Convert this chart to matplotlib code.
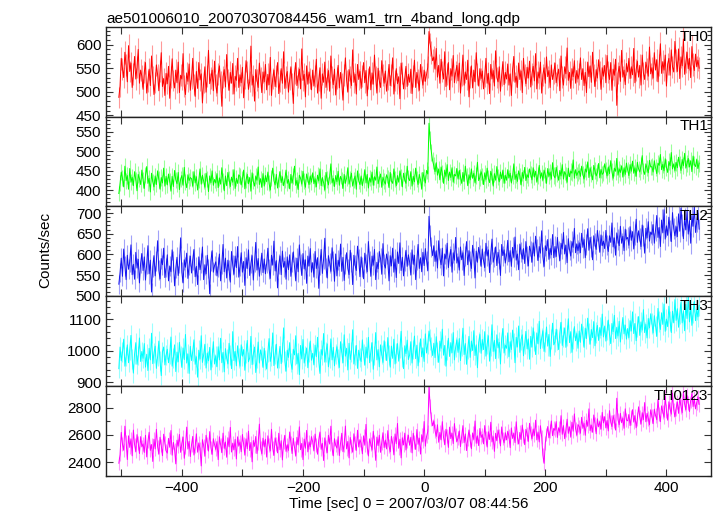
import numpy as np
import matplotlib
matplotlib.use("Agg")
import matplotlib.pyplot as plt
from matplotlib.ticker import MultipleLocator

plt.rcParams['font.family'] = ['Liberation Sans', 'DejaVu Sans']

# time bins (s) start at -504, 2 s wide, 20 bins per row below
t_start = -504
bin_width = 2

th0 = [
    488, 512, 571, 549, 530, 584, 556, 521, 598, 543, 561, 509, 538, 575, 527, 552, 590, 518, 546, 533,
    505, 541, 562, 497, 523, 548, 513, 576, 531, 494, 519, 557, 536, 502, 544, 583, 511, 528, 492, 539,
    517, 554, 486, 531, 570, 524, 508, 546, 519, 563, 498, 535, 527, 581, 512, 494, 540, 522, 559, 503,
    529, 571, 516, 490, 543, 507, 562, 525, 538, 476, 521, 553, 499, 534, 588, 517, 529, 546, 502, 565,
    514, 497, 538, 555, 521, 469, 532, 547, 510, 579, 526, 503, 541, 518, 560, 495, 533, 524, 571, 509,
    536, 519, 552, 487, 528, 566, 541, 505, 522, 597, 514, 533, 480, 547, 525, 509, 561, 530, 498, 542,
    521, 558, 504, 537, 515, 573, 492, 528, 546, 511, 534, 562, 496, 523, 549, 518, 585, 507, 531, 543,
    499, 527, 553, 518, 475, 539, 562, 513, 530, 548, 506, 591, 524, 537, 489, 555, 516, 542, 528, 504,
    546, 512, 533, 569, 497, 524, 551, 486, 538, 520, 563, 509, 527, 545, 501, 576, 532, 515, 548, 493,
    529, 556, 508, 541, 518, 482, 535, 572, 524, 499, 547, 531, 513, 589, 520, 537, 495, 558, 526, 543,
    507, 534, 562, 519, 545, 491, 528, 553, 504, 540, 516, 578, 531, 497, 550, 523, 509, 566, 535, 518,
    544, 501, 527, 558, 513, 536, 572, 495, 524, 549, 517, 532, 485, 561, 539, 506, 528, 554, 511, 537,
    520, 548, 496, 533, 567, 509, 541, 525, 503, 558, 531, 514, 546, 522, 537, 552, 628, 601, 583, 566,
    574, 548, 592, 531, 556, 518, 569, 543, 527, 585, 511, 538, 562, 504, 549, 533, 577, 519, 541, 556,
    523, 561, 497, 535, 578, 514, 542, 526, 567, 489, 531, 555, 508, 546, 521, 583, 537, 512, 549, 528,
    544, 506, 533, 571, 518, 539, 496, 558, 527, 545, 512, 587, 530, 521, 553, 501, 536, 564, 515, 541,
    527, 559, 514, 538, 492, 547, 575, 520, 533, 509, 561, 526, 544, 498, 571, 535, 517, 552, 529, 565,
    510, 538, 554, 523, 581, 506, 542, 529, 563, 497, 536, 551, 518, 574, 532, 545, 509, 557, 526, 540,
    561, 519, 535, 548, 502, 576, 531, 514, 553, 538, 593, 524, 541, 507, 549, 532, 566, 518, 545, 527,
    538, 572, 526, 549, 513, 541, 498, 563, 532, 555, 520, 584, 536, 511, 547, 529, 568, 542, 505, 551,
    533, 556, 519, 577, 541, 526, 562, 503, 548, 535, 569, 471, 539, 554, 522, 588, 531, 546, 515, 560,
    542, 571, 528, 553, 536, 592, 519, 547, 565, 531, 556, 514, 578, 540, 526, 563, 549, 533, 595, 538,
    551, 529, 583, 546, 568, 521, 557, 602, 539, 564, 546, 578, 512, 559, 571, 535, 589, 553, 542, 607,
    566, 543, 591, 528, 574, 555, 612, 537, 563, 584, 549, 571, 530, 596, 558, 545, 580, 553, 567, 550,
]

th1 = [
    392, 418, 447, 431, 409, 462, 425, 438, 403, 456, 421, 434, 412, 448, 427, 399, 441, 430, 415, 452,
    426, 405, 439, 461, 418, 431, 396, 444, 422, 409, 437, 415, 450, 428, 403, 433, 419, 457, 411, 436,
    414, 442, 423, 398, 436, 410, 451, 427, 417, 446, 402, 429, 438, 413, 459, 421, 407, 440, 425, 433,
    430, 411, 448, 419, 435, 401, 426, 455, 416, 439, 424, 408, 444, 429, 397, 437, 420, 450, 413, 428,
    419, 443, 407, 432, 416, 458, 424, 399, 437, 412, 446, 428, 410, 434, 421, 453, 405, 431, 418, 440,
    436, 414, 429, 452, 404, 427, 441, 417, 433, 398, 445, 423, 411, 437, 426, 460, 415, 430, 408, 443,
    411, 438, 422, 447, 418, 401, 432, 457, 425, 414, 441, 406, 429, 448, 420, 435, 412, 427, 452, 418,
    428, 404, 441, 419, 436, 462, 413, 426, 402, 439, 431, 416, 449, 423, 408, 442, 427, 415, 437, 421,
    445, 417, 430, 409, 439, 424, 455, 412, 433, 420, 401, 446, 428, 414, 436, 468, 419, 431, 410, 438,
    422, 449, 413, 436, 427, 405, 441, 418, 432, 458, 416, 429, 444, 411, 426, 437, 403, 450, 424, 415,
    437, 412, 428, 453, 419, 441, 406, 432, 421, 447, 413, 435, 426, 460, 417, 429, 442, 408, 434, 423,
    416, 440, 431, 407, 446, 424, 418, 455, 429, 412, 438, 421, 450, 433, 409, 444, 427, 418, 462, 431,
    425, 448, 411, 436, 422, 457, 430, 415, 441, 427, 403, 446, 433, 419, 451, 442, 572, 528, 497, 476,
    463, 448, 471, 439, 455, 427, 460, 443, 418, 452, 436, 466, 425, 447, 433, 458, 421, 441, 437, 456,
    429, 451, 434, 418, 446, 423, 462, 436, 412, 440, 427, 455, 431, 444, 419, 438, 472, 425, 433, 448,
    437, 415, 445, 428, 457, 431, 420, 449, 436, 411, 443, 426, 461, 434, 422, 447, 430, 452, 418, 439,
    426, 453, 432, 444, 419, 436, 468, 428, 441, 423, 450, 437, 414, 446, 431, 459, 425, 440, 433, 455,
    441, 427, 458, 434, 449, 421, 438, 464, 431, 445, 426, 452, 440, 418, 456, 436, 447, 429, 471, 438,
    432, 459, 443, 426, 451, 437, 466, 429, 448, 440, 421, 457, 435, 449, 444, 478, 431, 453, 438, 446,
    450, 436, 462, 441, 429, 455, 447, 473, 433, 458, 442, 427, 464, 451, 437, 446, 469, 432, 454, 441,
    445, 468, 452, 437, 460, 443, 476, 448, 431, 457, 449, 482, 439, 455, 446, 463, 434, 458, 441, 470,
    452, 438, 466, 449, 475, 444, 458, 436, 472, 455, 447, 463, 489, 450, 441, 468, 457, 445, 477, 460,
    461, 447, 476, 458, 443, 470, 464, 492, 453, 467, 450, 481, 459, 446, 474, 463, 497, 455, 468, 451,
    472, 458, 485, 466, 451, 479, 463, 495, 457, 470, 482, 460, 476, 448, 488, 467, 461, 479, 456, 470,
]

th2 = [
    528, 556, 591, 547, 613, 572, 539, 598, 564, 582, 623, 551, 576, 540, 605, 567, 588, 531, 579, 602,
    561, 594, 538, 577, 621, 553, 586, 509, 570, 597, 548, 584, 633, 562, 541, 590, 575, 615, 544, 568,
    599, 536, 572, 558, 611, 583, 524, 566, 593, 549, 578, 640, 557, 531, 587, 569, 603, 542, 574, 596,
    555, 587, 612, 546, 571, 527, 594, 563, 580, 618, 539, 575, 553, 598, 566, 505, 584, 609, 557, 573,
    582, 548, 569, 601, 536, 577, 624, 558, 591, 543, 586, 562, 533, 607, 574, 552, 596, 568, 619, 545,
    571, 604, 557, 583, 525, 592, 566, 611, 549, 578, 597, 538, 581, 629, 562, 590, 547, 575, 603, 556,
    589, 553, 578, 615, 564, 542, 598, 574, 632, 560, 585, 519, 576, 596, 551, 608, 569, 583, 540, 594,
    563, 599, 547, 581, 606, 570, 536, 591, 558, 623, 577, 549, 602, 565, 587, 530, 596, 572, 614, 557,
    580, 545, 607, 566, 592, 518, 575, 612, 554, 588, 639, 568, 543, 597, 579, 559, 616, 583, 535, 601,
    548, 586, 571, 625, 559, 593, 537, 577, 604, 566, 551, 610, 582, 527, 598, 574, 561, 620, 589, 546,
    594, 569, 541, 603, 578, 558, 631, 585, 547, 596, 574, 612, 539, 581, 565, 607, 590, 552, 626, 576,
    567, 601, 584, 536, 597, 572, 615, 557, 589, 544, 606, 578, 628, 561, 593, 548, 584, 610, 571, 599,
    582, 550, 611, 576, 598, 539, 587, 624, 566, 592, 558, 605, 573, 614, 585, 561, 692, 646, 618, 597,
    621, 583, 609, 567, 633, 591, 575, 615, 548, 601, 589, 627, 568, 596, 612, 557, 604, 586, 641, 579,
    594, 562, 618, 587, 604, 549, 597, 631, 575, 609, 584, 566, 622, 592, 543, 608, 581, 617, 599, 571,
    613, 585, 568, 627, 596, 611, 556, 602, 637, 581, 594, 618, 573, 605, 588, 549, 624, 597, 611, 579,
    598, 634, 582, 609, 571, 617, 593, 642, 586, 601, 563, 625, 606, 589, 614, 578, 631, 596, 572, 620,
    607, 581, 628, 596, 644, 612, 585, 619, 603, 657, 594, 571, 621, 609, 636, 588, 615, 599, 648, 592,
    619, 595, 641, 608, 585, 627, 613, 653, 601, 622, 580, 638, 611, 596, 631, 617, 663, 604, 625, 609,
    628, 604, 651, 617, 636, 592, 624, 662, 610, 641, 619, 587, 645, 626, 612, 658, 633, 605, 647, 621,
    632, 614, 658, 623, 607, 645, 629, 676, 618, 640, 598, 652, 635, 621, 668, 627, 644, 609, 661, 637,
    641, 622, 667, 634, 655, 613, 648, 685, 629, 657, 638, 619, 671, 646, 603, 663, 640, 679, 632, 654,
    648, 672, 627, 659, 694, 641, 665, 619, 683, 652, 708, 637, 669, 646, 690, 658, 631, 701, 662, 645,
    667, 643, 698, 656, 712, 671, 638, 687, 659, 705, 649, 682, 627, 694, 668, 715, 653, 679, 700, 661,
]

th3 = [
    943, 1012, 968, 995, 1037, 951, 982, 1019, 962, 1003, 1049, 974, 929, 991, 1026, 957, 985, 1041, 966, 998,
    976, 1023, 948, 989, 937, 1008, 971, 1056, 959, 993, 1015, 944, 982, 1031, 968, 921, 997, 1012, 955, 986,
    1005, 962, 988, 1044, 951, 977, 1019, 934, 996, 965, 1027, 983, 947, 1009, 972, 1052, 961, 990, 928, 1014,
    969, 998, 1035, 957, 981, 916, 1002, 974, 1048, 963, 987, 1021, 945, 993, 968, 1011, 939, 979, 1029, 958,
    984, 949, 1013, 971, 1040, 962, 995, 933, 1007, 976, 958, 1024, 987, 943, 1061, 969, 998, 952, 1016, 977,
    951, 1019, 983, 1004, 938, 992, 1033, 965, 977, 1046, 956, 989, 1012, 931, 975, 1028, 961, 1003, 984, 947,
    1008, 971, 942, 997, 1039, 966, 984, 1057, 953, 990, 1021, 945, 978, 1014, 959, 996, 1073, 968, 935, 1002,
    979, 1026, 963, 941, 1005, 987, 1048, 958, 992, 924, 1017, 974, 1036, 961, 983, 1009, 946, 995, 1031, 970,
    992, 955, 1018, 981, 1043, 967, 928, 1004, 986, 1055, 964, 997, 1022, 949, 978, 1038, 971, 1011, 952, 989,
    1013, 976, 947, 1029, 994, 962, 1051, 983, 1008, 939, 1024, 972, 996, 1067, 958, 987, 1017, 944, 1002, 979,
    966, 1035, 991, 954, 1012, 977, 1043, 962, 998, 1026, 941, 985, 1058, 971, 1004, 949, 1019, 988, 963, 1032,
    1001, 969, 1042, 986, 948, 1015, 976, 1037, 958, 994, 1023, 967, 1008, 1062, 980, 943, 1016, 991, 1034, 972,
    987, 1029, 961, 1004, 1047, 975, 1018, 952, 996, 1038, 981, 1009, 966, 1054, 993, 1021, 1063, 1036, 1012, 985,
    1024, 978, 1045, 997, 963, 1031, 1008, 1069, 986, 1017, 951, 1003, 1040, 982, 1026, 994, 1058, 971, 1012, 1035,
    995, 1039, 969, 1014, 1072, 988, 1023, 957, 1006, 1046, 979, 1031, 1001, 1064, 985, 1019, 946, 1027, 1052, 992,
    1036, 1004, 1061, 983, 1022, 1048, 967, 1014, 1083, 998, 1033, 975, 1051, 1009, 1027, 958, 1040, 1071, 993, 1018,
    1008, 1057, 981, 1029, 1004, 1066, 1025, 962, 1043, 1012, 1079, 995, 1036, 1051, 984, 1021, 1062, 1006, 1038, 973,
    1046, 1012, 1073, 1031, 988, 1057, 1022, 1094, 1007, 1041, 1064, 998, 1029, 1076, 1015, 1052, 982, 1037, 1088, 1019,
    1028, 1069, 1036, 1004, 1058, 1091, 1017, 1045, 1073, 1011, 1049, 1102, 1026, 1061, 995, 1039, 1077, 1032, 1055, 1008,
    1063, 1027, 1085, 1048, 1011, 1072, 1039, 1104, 1055, 1021, 1068, 1042, 1093, 1016, 1059, 1081, 1033, 1074, 1049, 1117,
    1044, 1079, 1031, 1066, 1098, 1052, 1023, 1087, 1061, 1113, 1039, 1075, 1047, 1094, 1028, 1069, 1106, 1054, 1082, 1037,
    1071, 1042, 1096, 1063, 1124, 1055, 1087, 1032, 1078, 1109, 1049, 1092, 1066, 1131, 1058, 1084, 1041, 1103, 1073, 1118,
    1088, 1057, 1112, 1079, 1046, 1135, 1093, 1068, 1121, 1084, 1149, 1062, 1101, 1077, 1142, 1095, 1058, 1126, 1089, 1163,
    1097, 1134, 1075, 1118, 1156, 1089, 1127, 1064, 1148, 1103, 1171, 1092, 1139, 1081, 1122, 1158, 1096, 1131, 1108, 1145,
]

th0123 = [
    2392, 2455, 2618, 2531, 2487, 2664, 2552, 2419, 2593, 2508, 2571, 2446, 2635, 2527, 2478, 2602, 2541, 2463, 2587, 2512,
    2534, 2471, 2597, 2438, 2552, 2619, 2486, 2529, 2405, 2568, 2497, 2641, 2513, 2459, 2583, 2521, 2447, 2605, 2538, 2482,
    2466, 2574, 2509, 2632, 2451, 2545, 2493, 2387, 2561, 2518, 2603, 2472, 2539, 2584, 2428, 2507, 2657, 2496, 2553, 2441,
    2527, 2589, 2452, 2516, 2608, 2473, 2541, 2499, 2372, 2565, 2521, 2443, 2597, 2536, 2481, 2624, 2508, 2457, 2572, 2529,
    2493, 2551, 2418, 2586, 2527, 2469, 2613, 2501, 2548, 2436, 2579, 2512, 2655, 2474, 2539, 2492, 2567, 2423, 2586, 2517,
    2548, 2476, 2603, 2532, 2451, 2571, 2498, 2627, 2485, 2544, 2402, 2559, 2516, 2588, 2463, 2537, 2679, 2504, 2462, 2576,
    2511, 2568, 2437, 2593, 2525, 2482, 2641, 2503, 2449, 2578, 2534, 2468, 2612, 2491, 2557, 2416, 2546, 2597, 2479, 2528,
    2486, 2621, 2539, 2463, 2575, 2508, 2444, 2582, 2526, 2659, 2491, 2537, 2418, 2569, 2502, 2633, 2475, 2548, 2512, 2587,
    2549, 2482, 2606, 2527, 2458, 2563, 2621, 2494, 2537, 2412, 2578, 2515, 2469, 2597, 2533, 2664, 2501, 2446, 2572, 2523,
    2503, 2587, 2448, 2539, 2612, 2476, 2528, 2665, 2497, 2552, 2431, 2581, 2519, 2473, 2608, 2542, 2486, 2634, 2511, 2565,
    2538, 2461, 2593, 2524, 2677, 2508, 2445, 2571, 2532, 2489, 2626, 2547, 2413, 2584, 2521, 2598, 2472, 2543, 2616, 2507,
    2562, 2497, 2631, 2518, 2476, 2589, 2541, 2453, 2607, 2535, 2684, 2502, 2568, 2431, 2579, 2526, 2613, 2489, 2557, 2598,
    2524, 2583, 2468, 2612, 2547, 2493, 2639, 2531, 2576, 2459, 2601, 2552, 2698, 2517, 2589, 2624, 2953, 2812, 2716, 2667,
    2702, 2631, 2589, 2674, 2546, 2618, 2563, 2697, 2582, 2527, 2641, 2594, 2508, 2657, 2573, 2612, 2536, 2683, 2598, 2551,
    2576, 2629, 2514, 2591, 2668, 2543, 2607, 2485, 2572, 2636, 2559, 2498, 2614, 2567, 2702, 2538, 2593, 2521, 2647, 2581,
    2602, 2534, 2668, 2579, 2511, 2623, 2566, 2693, 2548, 2587, 2479, 2612, 2557, 2636, 2592, 2519, 2658, 2574, 2541, 2616,
    2563, 2627, 2589, 2506, 2651, 2574, 2612, 2543, 2696, 2581, 2533, 2618, 2567, 2672, 2594, 2528, 2641, 2609, 2552, 2685,
    2617, 2572, 2643, 2596, 2708, 2563, 2621, 2548, 2667, 2587, 2452, 2391, 2539, 2603, 2661, 2578, 2629, 2702, 2594, 2648,
    2633, 2697, 2581, 2652, 2619, 2741, 2604, 2668, 2572, 2638, 2715, 2611, 2659, 2583, 2693, 2627, 2754, 2645, 2598, 2676,
    2661, 2612, 2729, 2648, 2684, 2597, 2707, 2663, 2791, 2631, 2672, 2619, 2746, 2683, 2608, 2718, 2659, 2697, 2642, 2765,
    2688, 2734, 2651, 2706, 2629, 2778, 2693, 2661, 2742, 2702, 2635, 2869, 2712, 2674, 2758, 2689, 2723, 2648, 2791, 2709,
    2703, 2749, 2668, 2727, 2785, 2694, 2741, 2652, 2718, 2806, 2731, 2679, 2763, 2712, 2837, 2696, 2758, 2721, 2674, 2784,
    2736, 2682, 2789, 2742, 2711, 2861, 2754, 2697, 2813, 2768, 2729, 2884, 2776, 2708, 2843, 2791, 2752, 2906, 2784, 2734,
    2795, 2842, 2758, 2871, 2809, 2763, 2917, 2826, 2784, 2889, 2833, 2771, 2852, 2904, 2808, 2865, 2791, 2838, 2879, 2824,
]

labels = ["TH0", "TH1", "TH2", "TH3", "TH0123"]
colors = ["#ff0000", "#00ff00", "#1414f0", "#00ffff", "#ff00ff"]
ylims = [(447, 638), (359, 589), (499, 716), (888, 1174), (2300, 2959)]
ymajor = [50, 50, 50, 100, 200]
yminor = [10, 10, 10, 20, 100]

series = [th0, th1, th2, th3, th0123]

fig, axes = plt.subplots(5, 1, sharex=True, figsize=(7.17, 5.16), dpi=100)
fig.subplots_adjust(left=0.148, right=0.992, top=0.948, bottom=0.078, hspace=0)

for ax, y, lab, c, yl, ma, mi in zip(axes, series, labels, colors, ylims, ymajor, yminor):
    y = np.array(y, dtype=float)
    t = t_start + bin_width * np.arange(len(y))
    err = np.sqrt(y)  # poisson error of 1 s bins
    ax.vlines(t, y - err, y + err, color=c, alpha=0.4, lw=0.8)
    ax.plot(t, y, color=c, lw=0.7)
    ax.set_ylim(*yl)
    ax.set_xlim(-525, 474)
    ax.yaxis.set_major_locator(MultipleLocator(ma))
    ax.yaxis.set_minor_locator(MultipleLocator(mi))
    ax.xaxis.set_major_locator(MultipleLocator(200))
    ax.xaxis.set_minor_locator(MultipleLocator(100))
    ax.tick_params(which='both', direction='in', top=True, right=True,
                   labelsize=11, color='#333333', width=0.8)
    ax.tick_params(which='major', length=5)
    ax.tick_params(which='minor', length=3)
    ax.tick_params(axis='x', which='minor', length=5)
    for s in ax.spines.values():
        s.set_linewidth(1.0)
        s.set_color('#222222')
    ax.text(0.995, 0.97, lab, transform=ax.transAxes, ha='right', va='top',
            fontsize=11)

axes[0].set_title("ae501006010_20070307084456_wam1_trn_4band_long.qdp",
                  loc='left', fontsize=11, pad=3)
axes[-1].set_xlabel("Time [sec] 0 = 2007/03/07 08:44:56", fontsize=11, labelpad=2)
fig.text(0.063, 0.515, "Counts/sec", rotation=90, ha='center', va='center', fontsize=11)

fig.savefig("out.png", dpi=100)
